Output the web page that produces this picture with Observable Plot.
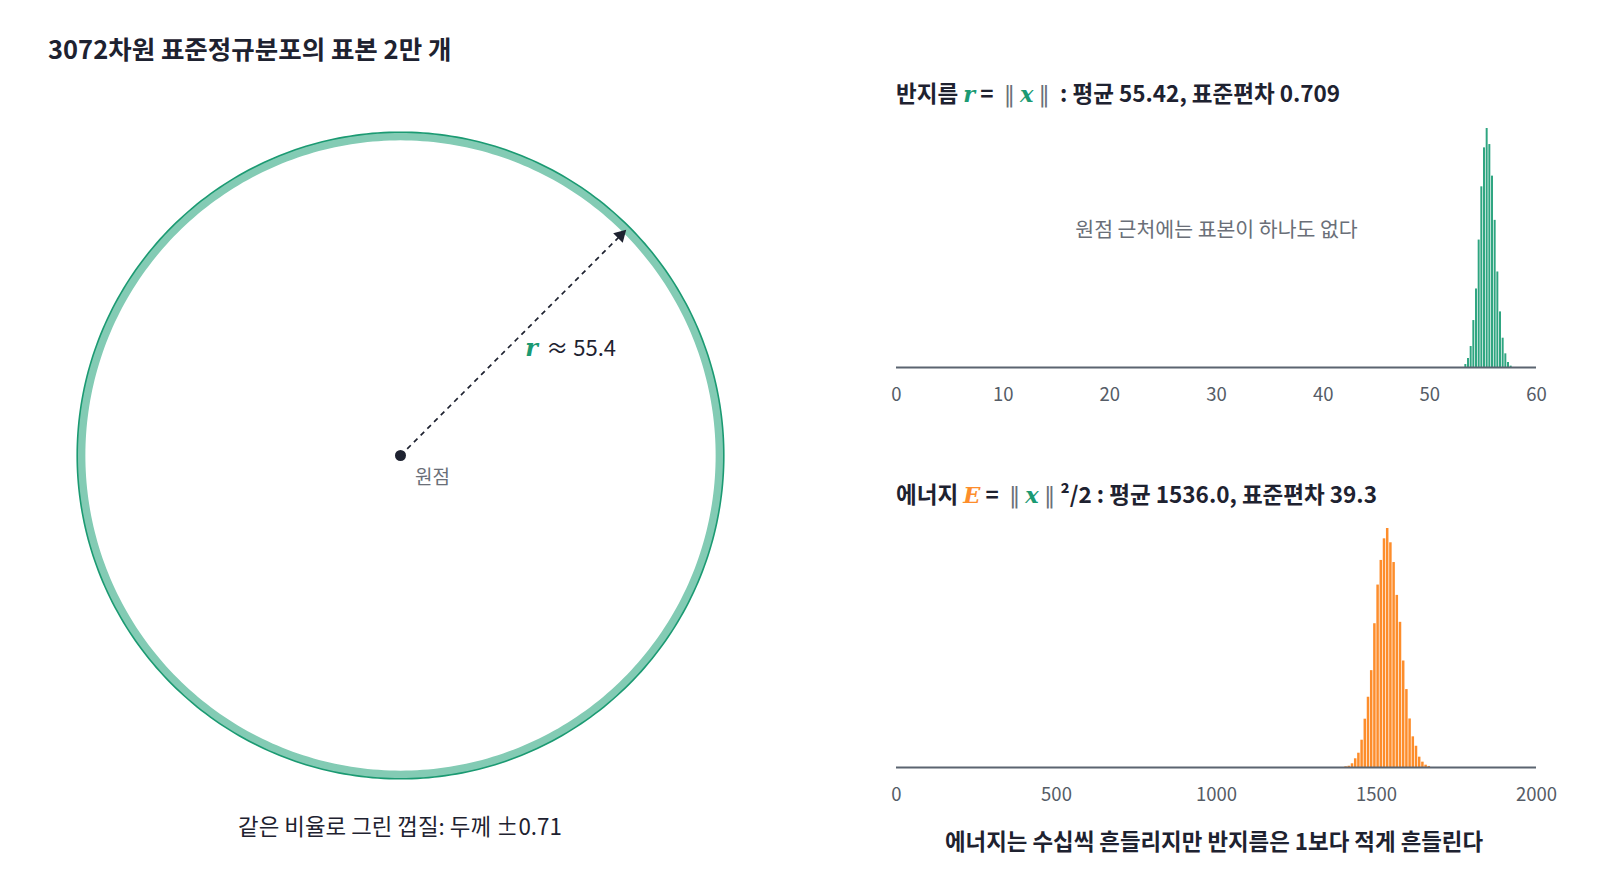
<!DOCTYPE html>
<html><head><meta charset="utf-8">
<script src="https://cdn.jsdelivr.net/npm/d3@7"></script>
<script src="https://cdn.jsdelivr.net/npm/@observablehq/plot@0.6"></script>
<style>
body{margin:0;background:#fff;font-family:"Noto Sans CJK KR","Noto Sans",sans-serif;color:#1e2230;}
#root{position:relative;width:1600px;height:896px;overflow:hidden;}
.abs{position:absolute;white-space:nowrap;line-height:1;transform:translateY(-50%);}
.b{font-weight:700;}
.m{font-family:"DejaVu Serif","Liberation Serif",serif;font-style:italic;font-weight:700;}
.bar{font-family:"DejaVu Serif",serif;font-weight:400;color:#6a6f78;}
svg{position:absolute;overflow:visible;}
</style></head><body><div id="root"></div>
<script>
// ---- data ----
const radiusMean = 55.42;
const radiusSD = 0.709;
const shellHalf = 0.71;
const energyMean = 1536.0;
const energySD = 39.3;

const rBinStarts = [53.25,53.5,53.75,54,54.25,54.5,54.75,55,55.25,55.5,55.75,56,56.25,56.5,56.75,57,57.25,57.5];
const rBinWidth = 0.25;
const rCounts = [35,106,247,553,925,1501,2128,2587,2815,2626,2254,1733,1125,655,345,161,59,16];
const rTicks = [0,10,20,30,40,50,60];

const eBinStarts = [1400,1410,1420,1430,1440,1450,1460,1470,1480,1490,1500,1510,1520,1530,1540,1550,1560,1570,1580,1590,1600,1610,1620,1630,1640,1650,1660];
const eBinWidth = 10;
const eCounts = [6,11,32,75,123,235,416,605,834,1238,1571,1783,1969,2058,1935,1765,1482,1250,917,671,418,264,183,89,46,20,9];
const eTicks = [0,500,1000,1500,2000];

// ---- styles ----
const GREEN = "#2ea580", GREEN_D = "#1b9a72", GREEN_L = "#83cbb4", ORANGE = "#fd8d2b", INK = "#1e2230", GRAY = "#6a6f78";
const FONT = '"Noto Sans CJK KR","Noto Sans",sans-serif';
const root = document.getElementById("root");

function place(node, left, top){ node.style.left = left+"px"; node.style.top = top+"px"; root.appendChild(node); }
function html(str, left, top, size, cls, center){
  const d = document.createElement("div");
  d.className = "abs " + (cls||"");
  d.style.fontSize = size+"px";
  d.innerHTML = str;
  if (center) d.style.transform = "translate(-50%,-50%)";
  place(d, left, top);
}

// ---- left: shell circle ----
const k = 5.76, W = 800, H = 896, cx = 400, cy = 455;
const deg = d3.range(0, 361, 1);
const ring = deg.map(a => ({x: radiusMean*Math.cos(a*Math.PI/180), y: radiusMean*Math.sin(a*Math.PI/180)}));
const outer = deg.map(a => ({x: (radiusMean+shellHalf)*Math.cos(a*Math.PI/180), y: (radiusMean+shellHalf)*Math.sin(a*Math.PI/180)}));
const ang = Math.PI/4;
const tipBack = 7.8/k;
const arrow = [{r: radiusMean}];
const left = Plot.plot({
  width: W, height: H, margin: 0,
  x: {domain: [-cx/k, (W-cx)/k], axis: null},
  y: {domain: [-(H-cy)/k, cy/k], axis: null},
  style: {fontFamily: FONT, background: "transparent"},
  marks: [
    Plot.line(ring, {x: "x", y: "y", stroke: GREEN_L, strokeWidth: 2*shellHalf*k}),
    Plot.line(outer, {x: "x", y: "y", stroke: GREEN_D, strokeWidth: 1.6}),
    Plot.link(arrow, {x1: () => 0, y1: () => 0, x2: d => (d.r - tipBack)*Math.cos(ang), y2: d => (d.r - tipBack)*Math.sin(ang), stroke: INK, strokeWidth: 1.7, strokeDasharray: "5,4.5"}),
    Plot.dot(arrow, {x: d => (d.r - tipBack)*Math.cos(ang), y: d => (d.r - tipBack)*Math.sin(ang), symbol: "triangle", rotate: 45, r: 5, fill: INK, stroke: null}),
    Plot.dot([0], {x: () => 0, y: () => 0, r: 5.5, fill: INK, stroke: null}),
    Plot.text(["원점"], {x: () => 0, y: () => 0, dx: 32, dy: 22, fontSize: 19, fill: GRAY, text: d => d}),
    Plot.text(arrow, {x: d => d.r/2*Math.cos(ang), y: d => d.r/2*Math.sin(ang), text: () => "r", dx: 12, dy: 6, textAnchor: "start", fontSize: 24, fontFamily: '"DejaVu Serif",serif', fontStyle: "italic", fontWeight: 700, fill: GREEN_D}),
    Plot.text(arrow, {x: d => d.r/2*Math.cos(ang), y: d => d.r/2*Math.sin(ang), text: d => "≈ " + d.r.toFixed(1), dx: 33, dy: 6, textAnchor: "start", fontSize: 22, fill: INK})
  ]
});
place(left, 0, 0);

// ---- right: histograms ----
function hist(starts, width, counts, domain, ticks, fill, annot){
  const rows = starts.map((s,i) => ({x0: s, x1: s + width, n: counts[i]}));
  const marks = [
    Plot.rectY(rows, {x1: "x0", x2: "x1", y: "n", fill, insetLeft: 0.35, insetRight: 0.35}),
    Plot.ruleY([0], {stroke: "#5b6470", strokeWidth: 2}),
    Plot.axisX({ticks, tickSize: 0, tickPadding: 20, fontSize: 18.5, tickFormat: d => String(d)})
  ];
  if (annot) marks.push(Plot.text([annot], {x: () => annot.x, frameAnchor: "top", dy: 94, text: () => annot.text, fontSize: 20.5, fill: GRAY}));
  return Plot.plot({
    width: 720, height: 300, marginLeft: 40, marginRight: 40, marginTop: 18, marginBottom: 43,
    x: {domain}, y: {domain: [0, d3.max(counts)], axis: null},
    style: {fontFamily: FONT, color: "#555c66", background: "transparent"},
    marks
  });
}
place(hist(rBinStarts, rBinWidth, rCounts, [0,60], rTicks, GREEN, {x: 30, text: "원점 근처에는 표본이 하나도 없다"}), 856, 110);
place(hist(eBinStarts, eBinWidth, eCounts, [0,2000], eTicks, ORANGE, null), 856, 510);

// ---- texts ----
html("3072차원 표준정규분포의 표본 2만 개", 48, 48, 25.5, "b");
html(`반지름 <span class="m" style="color:${GREEN_D}">r</span> = &nbsp;<span class="bar">‖</span> <span class="m" style="color:${GREEN_D}">x</span> <span class="bar">‖</span> &nbsp;: 평균 ${radiusMean.toFixed(2)}, 표준편차 ${radiusSD.toFixed(3)}`, 896, 93, 22.5, "b");
html(`에너지 <span class="m" style="color:${ORANGE}">E</span> = &nbsp;<span class="bar">‖</span> <span class="m" style="color:${GREEN_D}">x</span> <span class="bar">‖</span> ²/2 : 평균 ${energyMean.toFixed(1)}, 표준편차 ${energySD.toFixed(1)}`, 896, 494, 22.5, "b");
html(`같은 비율로 그린 껍질: 두께 ±${shellHalf.toFixed(2)}`, 400, 825, 22.4, "", true);
html("에너지는 수십씩 흔들리지만 반지름은 1보다 적게 흔들린다", 1214, 840, 22.4, "b", true);
</script></body></html>
